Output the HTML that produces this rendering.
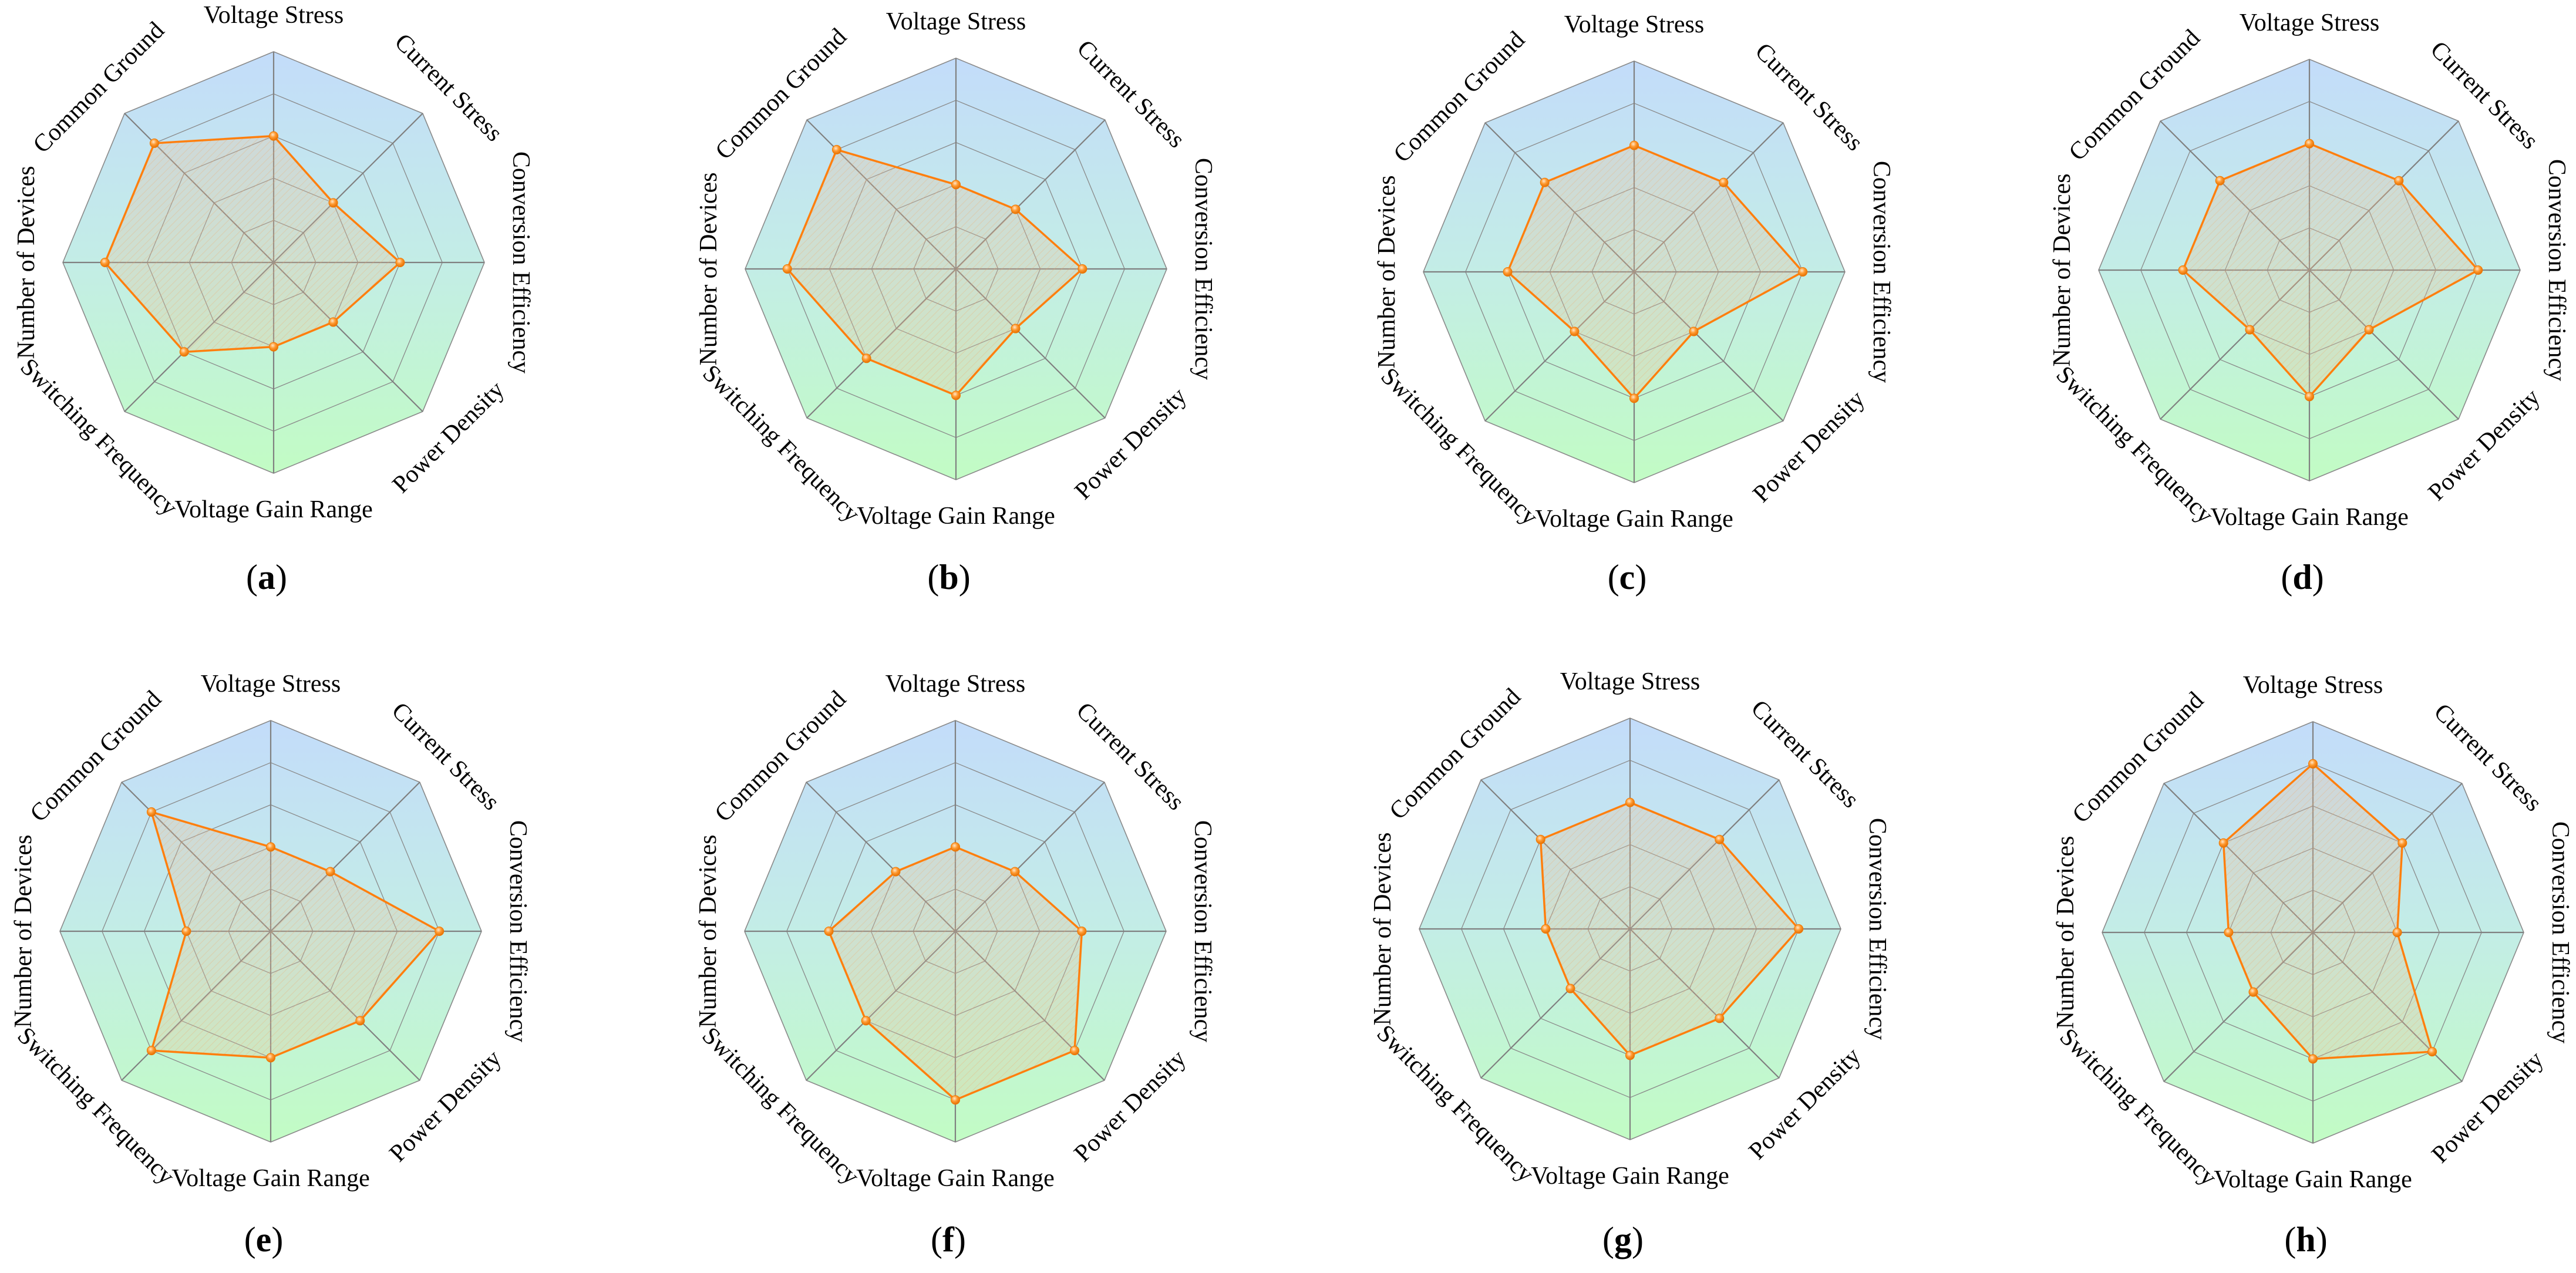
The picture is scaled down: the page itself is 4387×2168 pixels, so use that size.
<!DOCTYPE html>
<html><head><meta charset="utf-8">
<style>
html,body{margin:0;padding:0;background:#fff;}
svg{display:block;}
svg text{font-family:"Liberation Serif","Times New Roman","DejaVu Serif",serif;fill:#000;}
</style></head>
<body>
<svg id="chart" width="4387" height="2168" viewBox="0 0 4387 2168" xmlns="http://www.w3.org/2000/svg">
<defs>
<linearGradient id="bg" x1="0" y1="0" x2="0" y2="1">
<stop offset="0" stop-color="#c3dcfa"/>
<stop offset="0.5" stop-color="#c3ede6"/>
<stop offset="1" stop-color="#c2fcc4"/>
</linearGradient>
<pattern id="hatch" width="9" height="9" patternUnits="userSpaceOnUse" patternTransform="rotate(45)">
<rect width="9" height="9" fill="rgba(235,190,150,0.28)"/>
<line x1="0" y1="0" x2="0" y2="9" stroke="rgba(240,170,110,0.35)" stroke-width="2"/>
</pattern>
<radialGradient id="dot" cx="0.4" cy="0.35" r="0.7">
<stop offset="0" stop-color="#ffe6c8"/>
<stop offset="0.45" stop-color="#ff9a30"/>
<stop offset="1" stop-color="#e06a00"/>
</radialGradient>
</defs>
</svg>
<script>
const axes = ["Voltage Stress","Current Stress","Conversion Efficiency","Power Density","Voltage Gain Range","Switching Frequency","Number of Devices","Common Ground"];
const panelLabels = ["a","b","c","d","e","f","g","h"];
const valuesA = [3,2,3,2,2,3,4,4];
const valuesB = [2,2,3,2,3,3,4,4];
const valuesC = [3,3,4,2,3,2,3,3];
const valuesD = [3,3,4,2,3,2,3,3];
const valuesE = [2,2,4,3,3,4,2,4];
const valuesF = [2,2,3,4,4,3,3,2];
const valuesG = [3,3,4,3,3,2,2,3];
const valuesH = [4,3,2,4,3,2,2,3];
const maxValue = 5;
const ringLevels = [1,2,3,4,5];

const allValues = [valuesA,valuesB,valuesC,valuesD,valuesE,valuesF,valuesG,valuesH];
const centers = [[466,447],[1628,458],[2783,463],[3933,460],[461,1586],[1627,1586],[2776,1582],[3939,1588]];
const R = 359, LR = 421;
const FONT = '"Liberation Serif", "Times New Roman", "DejaVu Serif", serif';
const svg = document.getElementById('chart');
const NS = "http://www.w3.org/2000/svg";
function mk(tag, attrs, parent){const e=document.createElementNS(NS,tag);for(const k in attrs)e.setAttribute(k,attrs[k]);parent.appendChild(e);return e;}
function ang(i){return -Math.PI/2 + i*Math.PI/4;}
function pt(cx,cy,i,v){const r=v/maxValue*R;return [cx+r*Math.cos(ang(i)),cy+r*Math.sin(ang(i))];}
const rot = [0,45,90,-45,0,45,-90,-45];

allValues.forEach((vals,p)=>{
  const [cx,cy]=centers[p];
  const g=mk('g',{},svg);
  
  
  const outer=axes.map((_,i)=>pt(cx,cy,i,maxValue).join(',')).join(' ');
  const bg=mk('polygon',{points:outer,fill:'url(#bg)',stroke:'none'},g);
  
  
  ringLevels.forEach(l=>{
    const ring=mk('polygon',{points:axes.map((_,i)=>pt(cx,cy,i,l).join(',')).join(' '),fill:'none',stroke:'#8a8a8a','stroke-width':l===maxValue?1.6:1.3},g);
    
    
  });
  axes.forEach((a,i)=>{
    const [x,y]=pt(cx,cy,i,maxValue);
    const sp=mk('line',{x1:cx,y1:cy,x2:x,y2:y,stroke:'#808080','stroke-width':2.2},g);
    
    
  });
  const pts=vals.map((v,i)=>pt(cx,cy,i,v).join(',')).join(' ');
  const area=mk('polygon',{points:pts,fill:'url(#hatch)',stroke:'#ff7f0e','stroke-width':3.5,'stroke-linejoin':'miter'},g);
  
  
  vals.forEach((v,i)=>{
    const [x,y]=pt(cx,cy,i,v);
    const d=mk('circle',{cx:x,cy:y,r:7.5,fill:'url(#dot)',stroke:'#f07800','stroke-width':1},g);
    
    
  });
  axes.forEach((a,i)=>{
    const x=cx+LR*Math.cos(ang(i)), y=cy+LR*Math.sin(ang(i));
    const t=mk('text',{x:x,y:y,'font-size':42,'font-family':FONT,'text-anchor':'middle','dominant-baseline':'central',transform:'rotate('+rot[i]+' '+x+' '+y+')'},g);
    t.textContent=a;
    
    
  });
  const ly = p<4 ? 1003 : 2131;
  const lt=mk('text',{x:cx-12,y:ly,'font-size':60,'font-family':FONT,'text-anchor':'middle'},g);
  
  
  const s1=mk('tspan',{},lt);s1.textContent='(';
  const s2=mk('tspan',{'font-weight':'bold'},lt);s2.textContent=panelLabels[p];
  const s3=mk('tspan',{},lt);s3.textContent=')';
});
</script>
</body></html>
